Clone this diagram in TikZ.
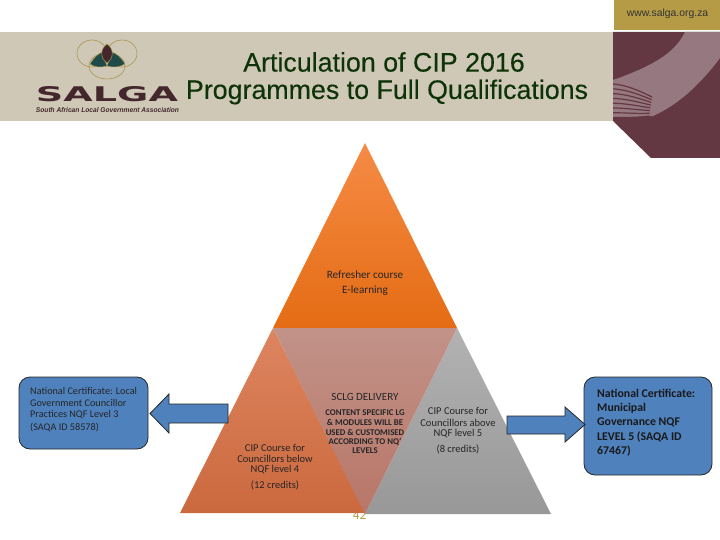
\documentclass[tikz,border=0pt]{standalone}
\usepackage{fontspec}
\setmainfont{Carlito}
\newfontfamily\arialf{Liberation Sans}
\newfontfamily\arialfb[FakeBold=0.25]{Liberation Sans}
\newfontfamily\dejaf{DejaVu Sans}
\definecolor{beige}{HTML}{D0C8B6}
\definecolor{plum}{HTML}{643843}
\definecolor{swoosh}{HTML}{967880}
\definecolor{golden}{HTML}{B59B45}
\definecolor{titlegreen}{HTML}{0F3308}
\definecolor{boxblue}{HTML}{4F81BD}
\definecolor{logobrown}{HTML}{43272C}
\definecolor{leafteal}{HTML}{1F4A4A}
\definecolor{ringgold}{HTML}{A8964F}
\definecolor{orangetop}{HTML}{F68B45}
\definecolor{orangebot}{HTML}{E46C14}
\definecolor{lefttop}{HTML}{DD8560}
\definecolor{leftbot}{HTML}{CB693E}
\definecolor{greytop}{HTML}{B2B2B2}
\definecolor{greybot}{HTML}{989898}
\definecolor{midtop}{HTML}{C29288}
\definecolor{midbot}{HTML}{B87668}
\tikzset{
  titletext/.style={inner sep=0,font=\arialfb\fontsize{26.8}{27}\selectfont,text=titlegreen},
  tri/.style={inner sep=0,align=center,text=black!85,font=\fontsize{10.5}{12}\selectfont},
  small/.style={inner sep=0,align=center,text=black!85,font=\bfseries\fontsize{8.8}{10}\selectfont},
  lefttext/.style={inner sep=0,anchor=west,text=black!85,font=\fontsize{10.2}{12}\selectfont},
  righttext/.style={inner sep=0,anchor=west,text=black!90,font=\bfseries\fontsize{11.8}{14}\selectfont},
  bluebox/.style={draw=black!85,line width=0.8pt,fill=boxblue,rounded corners=11pt},
  bluearrow/.style={draw=black!85,line width=0.8pt,fill=boxblue,line join=miter},
}
\begin{document}
\begin{tikzpicture}[x=1pt,y=-1pt]
\useasboundingbox (0,0) rectangle (720,540);
% header
\fill[golden] (614,0) rectangle (720,30);
\node[inner sep=0,font=\arialf\fontsize{10.4}{12}\selectfont,text=black!80] (url) at (667.5,14) {www.salga.org.za};
\fill[beige] (0,32) rectangle (613,121);
\fill[plum] (613,32) -- (720,32) -- (720,158) -- (651,158) -- (613,121) -- cycle;
% swoosh band
\fill[swoosh] (685,32) .. controls (677,48) and (664,58) .. (643,68) .. controls (632,73) and (622,77) .. (613,80) -- (613,118) -- (653,116) .. controls (680,104) and (702,82) .. (720,58) -- (720,32) -- cycle;
\foreach \i in {0,...,7}{
  \draw[plum,line width=1.2pt] (613,{84+\i*4.8}) .. controls (626,{85+\i*4.6}) and (638,{90+\i*4}) .. ({652-\i*0.4},{97-\i*0+\i*2.7});
}
% logo
\draw[ringgold,line width=0.6pt] (92,53.5) ellipse (15 and 13.5);
\draw[ringgold,line width=0.6pt] (122,53.5) ellipse (15 and 13.5);
\draw[ringgold,line width=0.6pt] (107,66) ellipse (18 and 13);
\filldraw[fill=leafteal,draw=ringgold,line width=0.5pt] (90,64) .. controls (94,57) and (99,53) .. (103,52) .. controls (104,59) and (106,63) .. (107,66) .. controls (100,68) and (94,67) .. (90,64) -- cycle;
\filldraw[fill=leafteal,draw=ringgold,line width=0.5pt] (125,64) .. controls (121,57) and (116,53) .. (111,52) .. controls (110,59) and (108,63) .. (107,66) .. controls (114,68) and (120,67) .. (125,64) -- cycle;
\filldraw[fill=logobrown,draw=ringgold,line width=0.5pt] (107,44) .. controls (114,49) and (114,58) .. (107,63) .. controls (100,58) and (100,49) .. (107,44) -- cycle;
\node[inner sep=0,text=logobrown] (salga) at (107,94.5) {\resizebox{142pt}{15pt}{\dejaf\bfseries SALGA}};
\node[inner sep=0,text=logobrown] (assoc) at (107.5,109.8) {\resizebox{143pt}{5pt}{\arialf\itshape\bfseries South African Local Government Association}};
% title
\node[titletext] (t1) at (384,62) {Articulation of CIP 2016};
\node[titletext] (t2) at (387,92) {Programmes to Full Qualifications};
% page number
\node[inner sep=0,font=\fontsize{13}{13}\selectfont,text=golden] (pg) at (359.5,515) {42};
% triangles
\shade[top color=orangetop,bottom color=orangebot] (365,143) -- (457,328) -- (273,328) -- cycle;
\shade[top color=lefttop,bottom color=leftbot] (273,328) -- (365,513) -- (180,513) -- cycle;
\shade[top color=greytop,bottom color=greybot] (457,328) -- (551,514) -- (365,514) -- cycle;
\shade[top color=midtop,bottom color=midbot] (273,328) -- (457,328) -- (365,514) -- cycle;
% triangle texts
\node[tri,font=\fontsize{11.2}{12}\selectfont] (ref) at (365,274.5) {Refresher course};
\node[tri,font=\fontsize{11.2}{12}\selectfont] (el) at (365,290.5) {E-learning};
\node[tri,font=\fontsize{11}{12}\selectfont] (sclg) at (365,397) {SCLG DELIVERY};
\node[small] (c1) at (365,412.5) {CONTENT  SPECIFIC LG};
\node[small] (c2) at (365,422) {\& MODULES WILL BE};
\node[small] (c3) at (365,432) {USED \& CUSTOMISED};
\node[small] (c4) at (365,441.5) {ACCORDING TO NQ'};
\node[small] (c5) at (365,451) {LEVELS};
\node[tri] (l1) at (275,448) {CIP Course for};
\node[tri] (l2) at (275,459) {Councillors below};
\node[tri] (l3) at (275,470) {NQF level 4};
\node[tri] (l4) at (275,485) {(12 credits)};
\node[tri] (r1) at (458,411) {CIP Course for};
\node[tri] (r2) at (458,423) {Councillors above};
\node[tri] (r3) at (458,434) {NQF level 5};
\node[tri] (r4) at (458,449.5) {(8 credits)};
% left box & arrow
\draw[bluebox] (19,377) rectangle (148,449);
\draw[bluearrow] (150,413.5) -- (169,394) -- (169,404) -- (228,404) -- (228,423) -- (169,423) -- (169,433) -- cycle;
\node[lefttext] (a1) at (30,391) {National Certificate: Local};
\node[lefttext] (a2) at (30,403) {Government Councillor};
\node[lefttext] (a3) at (30,415) {Practices NQF Level 3};
\node[lefttext] (a4) at (30,427) {(SAQA ID 58578)};
% right box & arrow
\draw[bluebox] (584,377) rectangle (712,475);
\draw[bluearrow] (585,424.5) -- (565,407) -- (565,416) -- (507,416) -- (507,434) -- (565,434) -- (565,442) -- cycle;
\node[righttext] (b1) at (597,393.5) {National Certificate:};
\node[righttext] (b2) at (597,408) {Municipal};
\node[righttext] (b3) at (597,422.5) {Governance NQF};
\node[righttext] (b4) at (597,437) {LEVEL 5  (SAQA ID};
\node[righttext] (b5) at (597,451.5) {67467)};
\end{tikzpicture}
\end{document}
